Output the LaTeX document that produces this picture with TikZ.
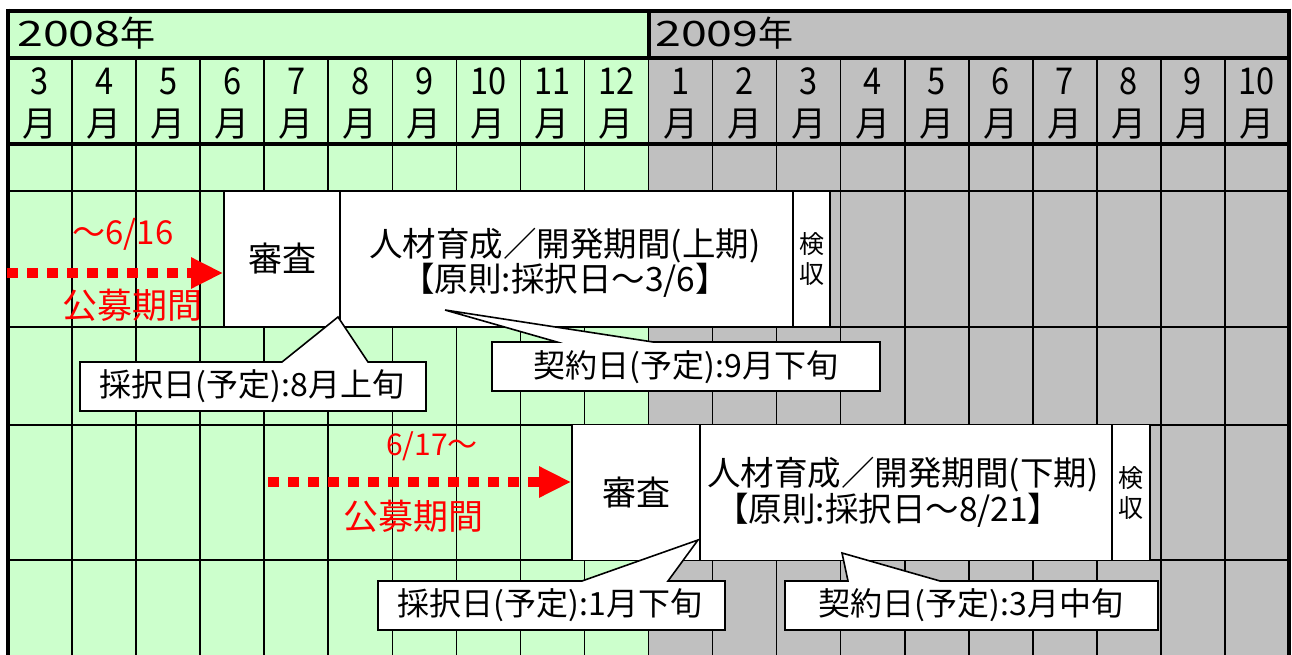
\documentclass[tikz,border=0pt]{standalone}
\usepackage{fontspec}
\setmainfont{Noto Sans CJK JP}
\usetikzlibrary{arrows.meta}
\definecolor{lgreen}{RGB}{204,255,204}
\definecolor{lgray}{RGB}{192,192,192}
\definecolor{pred}{RGB}{255,0,0}
\newcommand\fsz[1]{\fontsize{#1pt}{#1pt}\selectfont}
\begin{document}
\begin{tikzpicture}[x=1pt,y=-1pt,
  gridline/.style={line width=1.6pt},
  borderline/.style={line width=4.5pt},
  cellbox/.style={draw, line width=1.6pt, fill=white, inner sep=0pt, minimum height=136pt},
  callbox/.style={draw, line width=1.6pt, fill=white, line join=miter},
  calltext/.style={inner sep=0pt, font=\fsz{32}},
  monum/.style={inner sep=0pt, anchor=base, font=\fsz{37}},
  redtext/.style={inner sep=0pt, text=pred},
  redarrow/.style={draw=pred, line width=10pt, dash pattern=on 11pt off 9pt, -{Triangle[length=32pt,width=29pt]}}
]
\useasboundingbox (0,0) rectangle (1292,655);
% backgrounds
\fill[lgreen] (8,11) rectangle (649,655);
\fill[lgray] (649,11) rectangle (1289,655);
% vertical grid lines
\foreach \i in {1,...,19} {
  \pgfmathsetmacro\gx{8+64.05*\i}
  \draw[gridline] (\gx,58) -- (\gx,655);
}
% horizontal grid lines
\foreach \gy in {191,327,425,560} {
  \draw[gridline] (8,\gy) -- (1289,\gy);
}
% thick lines
\draw[borderline] (8,11) -- (1289,11);
\draw[borderline] (8,58) -- (1289,58);
\draw[borderline] (8,144) -- (1289,144);
\draw[borderline] (649,11) -- (649,58);
\draw[borderline] (8,8.75) -- (8,655);
\draw[borderline] (1289,8.75) -- (1289,655);
% year labels
\node[inner sep=0pt, anchor=base west, font=\fsz{35}] (y2008) at (17,47) {\scalebox{1.33}[1]{2008}年};
\node[inner sep=0pt, anchor=base west, font=\fsz{35}] (y2009) at (655,47) {\scalebox{1.33}[1]{2009}年};
% month labels
\foreach \m [count=\i from 0] in {3,4,5,6,7,8,9,10,11,12,1,2,3,4,5,6,7,8,9,10} {
  \pgfmathsetmacro\cx{8+64.05*(\i+0.5)}
  \node[monum] (n\i) at (\cx,95) {\scalebox{0.88}[1]{\m}};
  \node[monum, font=\fsz{35}] (m\i) at (\cx,137) {月};
}
% first period boxes
\node[cellbox, minimum width=116pt, font=\fsz{34}] (sa1) at (282,259) {審査};
\node[cellbox, minimum width=453pt] (dev1) at (566.5,259) {};
\node[cellbox, minimum width=37pt, align=center, font=\fontsize{25pt}{30pt}\selectfont] (ke1) at (811.5,259) {検\\収};
\node[inner sep=0pt, align=center, font=\fontsize{33.5pt}{35pt}\selectfont] (dt1) at (565,263) {人材育成／開発期間(上期)\\【原則:採択日～3/6】};
% second period boxes
\node[cellbox, minimum width=128pt, font=\fsz{34}] (sa2) at (636,492.5) {審査};
\node[cellbox, minimum width=412pt] (dev2) at (906,492.5) {};
\node[cellbox, minimum width=38pt, align=center, font=\fontsize{25pt}{30pt}\selectfont] (ke2) at (1131,492.5) {検\\収};
\node[inner sep=0pt, anchor=west, align=left, font=\fontsize{33.5pt}{34pt}\selectfont] (dt2) at (707,492) {人材育成／開発期間(下期)\\\hspace*{8pt}【原則:採択日～8/21】};
% callouts
\path[callbox] (80,362) -- (282,362) -- (338,317) -- (368,362) -- (426,362) -- (426,411) -- (80,411) -- cycle;
\node[calltext] (c1) at (252,386) {採択日(予定):8月上旬};
\path[callbox] (492,342) -- (557,342) -- (445,310) -- (653,342) -- (880,342) -- (880,391) -- (492,391) -- cycle;
\node[calltext] (c2) at (686,367) {契約日(予定):9月下旬};
\path[callbox] (378,581) -- (582,581) -- (698,540) -- (668,581) -- (725,581) -- (725,630) -- (378,630) -- cycle;
\node[calltext] (c3) at (550,605) {採択日(予定):1月下旬};
\path[callbox] (785,581) -- (848,581) -- (842,553) -- (940,581) -- (1158,581) -- (1158,630) -- (785,630) -- cycle;
\node[calltext] (c4) at (971,605) {契約日(予定):3月中旬};
% application periods
\coordinate (a1s) at (7,273);
\draw[redarrow] (a1s) -- (a1s -| sa1.west);
\node[redtext, font=\fsz{33}] (d1) at (123,234) {～6/16};
\node[redtext, font=\fsz{35}] (p1) at (132,305) {公募期間};
\coordinate (a2s) at (268,482);
\draw[redarrow] (a2s) -- (a2s -| sa2.west);
\node[redtext, font=\fsz{30}] (d2) at (432,446) {6/17～};
\node[redtext, font=\fsz{35}] (p2) at (413,516) {公募期間};
\end{tikzpicture}
\end{document}
